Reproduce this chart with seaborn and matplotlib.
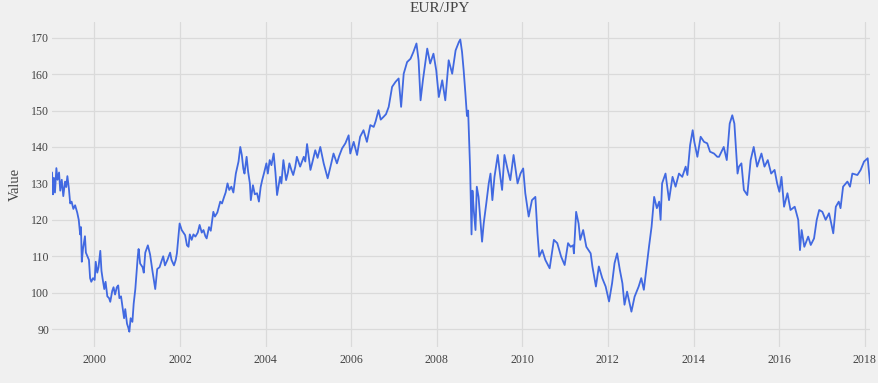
import pandas as pd
import matplotlib
matplotlib.use('Agg')
import matplotlib.pyplot as plt
import matplotlib.dates as mdates
import seaborn as sns

# EUR/JPY, values
dates = [
    '1999-01-04', '1999-01-12', '1999-01-20', '1999-01-29', '1999-02-10', '1999-02-20',
    '1999-03-05', '1999-03-15', '1999-03-28', '1999-04-10', '1999-04-25', '1999-05-05',
    '1999-05-15', '1999-05-28', '1999-06-08', '1999-06-20', '1999-07-05', '1999-07-20',
    '1999-08-07', '1999-08-20', '1999-09-01', '1999-09-08', '1999-09-15', '1999-09-25',
    '1999-10-12', '1999-10-20', '1999-11-02', '1999-11-15', '1999-11-25', '1999-12-05',
    '1999-12-20', '2000-01-03', '2000-01-12', '2000-01-25', '2000-02-05', '2000-02-20',
    '2000-03-01', '2000-03-10', '2000-03-25', '2000-04-05', '2000-04-20', '2000-05-05',
    '2000-05-15', '2000-06-01', '2000-06-12', '2000-06-25', '2000-07-10', '2000-07-22',
    '2000-08-01', '2000-08-15', '2000-08-28', '2000-09-10', '2000-09-20', '2000-10-05',
    '2000-10-15', '2000-10-25', '2000-11-05', '2000-11-20', '2000-12-01', '2000-12-15',
    '2001-01-05', '2001-01-12', '2001-01-25', '2001-02-15', '2001-02-25', '2001-03-10',
    '2001-04-01', '2001-04-20', '2001-05-10', '2001-06-03', '2001-06-20', '2001-07-10',
    '2001-07-25', '2001-08-10', '2001-08-25', '2001-09-15', '2001-10-08', '2001-10-20',
    '2001-11-10', '2001-11-25', '2001-12-05', '2001-12-28', '2002-01-15', '2002-02-13',
    '2002-03-01', '2002-03-14', '2002-03-25', '2002-04-10', '2002-04-25', '2002-05-12',
    '2002-06-01', '2002-06-17', '2002-07-05', '2002-07-20', '2002-08-05', '2002-08-16',
    '2002-09-05', '2002-09-20', '2002-10-12', '2002-10-25', '2002-11-15', '2002-12-10',
    '2002-12-25', '2003-01-12', '2003-01-25', '2003-02-10', '2003-02-25', '2003-03-15',
    '2003-04-01', '2003-04-22', '2003-05-05', '2003-05-15', '2003-05-30', '2003-06-12',
    '2003-06-25', '2003-07-05', '2003-07-23', '2003-08-05', '2003-08-20', '2003-08-28',
    '2003-09-15', '2003-10-01', '2003-10-20', '2003-11-05', '2003-11-20', '2003-12-03',
    '2003-12-20', '2004-01-08', '2004-01-20', '2004-02-05', '2004-02-20', '2004-03-10',
    '2004-03-25', '2004-04-08', '2004-05-04', '2004-05-15', '2004-06-01', '2004-06-24',
    '2004-07-10', '2004-07-22', '2004-08-10', '2004-08-24', '2004-09-10', '2004-09-24',
    '2004-10-22', '2004-11-22', '2004-12-05', '2004-12-20', '2005-01-18', '2005-02-05',
    '2005-02-28', '2005-03-20', '2005-04-12', '2005-05-11', '2005-06-14', '2005-07-08',
    '2005-08-03', '2005-09-01', '2005-09-20', '2005-10-15', '2005-11-12', '2005-12-10',
    '2005-12-24', '2006-01-22', '2006-02-20', '2006-03-18', '2006-04-16', '2006-05-15',
    '2006-06-13', '2006-07-12', '2006-07-28', '2006-08-22', '2006-09-10', '2006-10-05',
    '2006-10-25', '2006-11-17', '2006-12-16', '2007-01-15', '2007-02-10', '2007-03-03',
    '2007-03-25', '2007-04-23', '2007-05-22', '2007-06-15', '2007-07-12', '2007-07-30',
    '2007-08-16', '2007-09-05', '2007-10-12', '2007-11-06', '2007-12-04', '2007-12-28',
    '2008-01-19', '2008-02-17', '2008-03-14', '2008-04-12', '2008-05-12', '2008-06-10',
    '2008-07-08', '2008-07-20', '2008-08-04', '2008-08-18', '2008-09-01', '2008-09-15',
    '2008-09-25', '2008-10-05', '2008-10-12', '2008-10-24', '2008-11-01', '2008-11-12',
    '2008-11-27', '2008-12-08', '2008-12-23', '2009-01-07', '2009-01-22', '2009-02-05',
    '2009-02-27', '2009-03-20', '2009-04-04', '2009-04-20', '2009-05-08', '2009-06-05',
    '2009-06-27', '2009-07-12', '2009-08-01', '2009-08-29', '2009-09-20', '2009-10-18',
    '2009-11-21', '2009-12-16', '2010-01-08', '2010-01-26', '2010-02-24', '2010-03-24',
    '2010-04-22', '2010-05-10', '2010-05-25', '2010-06-20', '2010-07-16', '2010-08-22',
    '2010-09-27', '2010-10-26', '2010-11-28', '2010-12-28', '2011-01-26', '2011-02-17',
    '2011-03-10', '2011-03-17', '2011-04-05', '2011-04-26', '2011-05-10', '2011-06-04',
    '2011-07-01', '2011-08-07', '2011-08-22', '2011-09-21', '2011-10-16', '2011-11-14',
    '2011-12-13', '2012-01-11', '2012-02-06', '2012-02-27', '2012-03-20', '2012-04-12',
    '2012-05-04', '2012-05-22', '2012-06-13', '2012-07-20', '2012-08-16', '2012-09-20',
    '2012-10-12', '2012-11-03', '2012-11-27', '2012-12-17', '2013-01-08', '2013-01-30',
    '2013-02-22', '2013-03-14', '2013-03-26', '2013-04-08', '2013-05-07', '2013-06-06',
    '2013-07-06', '2013-08-01', '2013-08-30', '2013-09-27', '2013-10-26', '2013-11-10',
    '2013-12-03', '2013-12-25', '2014-01-08', '2014-02-03', '2014-03-03', '2014-04-01',
    '2014-04-28', '2014-05-22', '2014-06-25', '2014-07-23', '2014-08-07', '2014-09-16',
    '2014-10-12', '2014-11-06', '2014-11-28', '2014-12-16', '2015-01-12', '2015-01-24',
    '2015-02-14', '2015-03-07', '2015-04-05', '2015-05-04', '2015-05-30', '2015-06-28',
    '2015-08-04', '2015-08-30', '2015-09-27', '2015-10-26', '2015-11-24', '2015-12-16',
    '2016-01-04', '2016-01-22', '2016-02-13', '2016-03-13', '2016-04-08', '2016-05-14',
    '2016-06-13', '2016-06-28', '2016-07-12', '2016-08-04', '2016-09-06', '2016-09-28',
    '2016-10-26', '2016-11-18', '2016-12-09', '2017-01-05', '2017-02-02', '2017-03-03',
    '2017-03-22', '2017-04-08', '2017-04-30', '2017-05-25', '2017-06-09', '2017-07-01',
    '2017-08-07', '2017-08-29', '2017-09-18', '2017-10-31', '2017-11-28', '2017-12-27',
    '2018-01-27', '2018-02-07', '2018-02-16',
]
values = [
    133.0, 127.0, 131.5, 127.5, 134.2, 131.0,
    133.0, 128.0, 131.0, 126.5, 130.5, 129.0,
    132.0, 128.5, 124.5, 125.0, 123.0, 124.0,
    122.0, 120.0, 116.0, 118.0, 108.5, 112.0,
    115.5, 111.0, 110.0, 109.0, 104.0, 103.0,
    104.0, 103.5, 108.5, 105.5, 107.0, 111.5,
    106.0, 104.0, 101.0, 103.0, 99.0, 98.5,
    97.5, 100.5, 101.5, 99.5, 101.5, 102.0,
    98.5, 99.0, 96.0, 93.0, 95.5, 91.5,
    90.5, 89.3, 93.0, 92.0, 97.0, 101.0,
    110.0, 112.0, 108.0, 107.0, 105.5, 111.0,
    113.0, 110.5, 106.0, 101.0, 106.5, 107.0,
    108.5, 110.0, 107.5, 109.0, 111.0, 109.0,
    107.5, 109.0, 110.8, 119.0, 117.2, 115.8,
    113.0, 112.6, 116.0, 114.5, 116.0, 115.4,
    116.5, 118.6, 116.5, 117.2, 115.5, 114.9,
    118.0, 117.0, 122.2, 120.9, 122.0, 125.0,
    124.5, 126.3, 127.5, 130.0, 128.2, 129.1,
    127.5, 132.7, 134.6, 136.0, 140.0, 137.8,
    134.0, 132.7, 137.3, 133.2, 130.0, 125.4,
    129.5, 127.0, 127.3, 125.0, 129.0, 130.9,
    133.0, 135.5, 132.7, 136.4, 135.0, 138.2,
    133.0, 126.8, 131.8, 130.0, 136.4, 130.9,
    133.0, 135.5, 133.5, 132.3, 134.5, 137.3,
    134.6, 137.3, 136.0, 140.8, 133.7, 136.0,
    139.1, 137.0, 140.0, 135.5, 131.4, 134.6,
    138.2, 135.5, 137.5, 139.6, 141.0, 143.2,
    138.2, 141.4, 137.8, 142.8, 144.6, 141.4,
    146.0, 145.5, 147.0, 150.1, 147.5, 148.3,
    149.0, 151.0, 156.5, 157.9, 158.8, 151.0,
    160.1, 163.3, 164.2, 166.0, 168.4, 163.8,
    152.8, 158.3, 167.0, 162.9, 165.6, 161.0,
    153.7, 158.3, 152.8, 163.8, 160.1, 166.5,
    168.8, 169.5, 166.1, 161.0, 155.0, 148.5,
    150.0, 141.0, 134.0, 116.0, 128.0, 122.7,
    117.2, 129.1, 126.3, 120.0, 114.0, 119.0,
    124.5, 130.0, 132.7, 125.4, 131.8, 137.8,
    131.8, 128.2, 137.8, 133.7, 130.9, 137.8,
    130.0, 132.7, 134.1, 127.3, 120.9, 125.4,
    126.3, 116.3, 109.9, 111.7, 109.0, 106.7,
    114.5, 113.6, 109.9, 107.6, 113.6, 112.6,
    113.0, 110.8, 122.2, 119.0, 114.5, 117.2,
    112.6, 110.8, 107.2, 101.7, 107.2, 104.0,
    101.7, 97.6, 102.6, 108.1, 110.8, 106.3,
    102.6, 96.7, 100.3, 94.8, 98.9, 101.7,
    104.0, 100.8, 107.2, 112.6, 118.1, 126.3,
    123.2, 125.0, 120.0, 130.0, 132.7, 125.4,
    131.8, 129.1, 132.7, 131.8, 134.6, 132.3,
    140.5, 144.6, 141.4, 137.3, 142.8, 141.4,
    141.0, 138.7, 138.2, 137.3, 137.3, 140.0,
    136.4, 146.4, 148.7, 146.4, 132.7, 134.6,
    135.5, 128.2, 126.8, 136.4, 140.0, 134.6,
    138.2, 134.6, 136.4, 132.7, 133.7, 130.0,
    127.7, 131.8, 123.6, 127.3, 122.7, 123.6,
    120.0, 111.7, 117.2, 112.6, 115.4, 113.1,
    114.9, 120.0, 122.7, 122.2, 120.0, 121.8,
    119.0, 116.3, 123.6, 125.0, 123.2, 129.1,
    130.5, 129.1, 132.7, 132.3, 133.7, 136.0,
    136.9, 133.0, 130.0,
]

df = pd.DataFrame({'Date': pd.to_datetime(dates), 'Value': values})

sns.set_theme(style='whitegrid')
plt.rcParams['font.family'] = ['Liberation Serif', 'DejaVu Serif']

bg = '#f0f0f0'
fig = plt.figure(figsize=(8.79, 3.83), dpi=100, facecolor=bg)
ax = fig.add_axes([0.0592, 0.094, 0.9306, 0.8486])
ax.set_facecolor(bg)

sns.lineplot(data=df, x='Date', y='Value', ax=ax, color='#4169e1', linewidth=1.3)

ax.set_xlim(df['Date'].min(), df['Date'].max())
ax.set_ylim(85.1, 174.3)
ax.set_yticks(range(90, 171, 10))
ax.xaxis.set_major_locator(mdates.YearLocator(2))
ax.xaxis.set_major_formatter(mdates.DateFormatter('%Y'))

ax.grid(True, color='#dadada', linewidth=0.9)
for s in ax.spines.values():
    s.set_visible(False)
ax.tick_params(axis='both', length=0, labelsize=8.6, colors='#444444')
ax.tick_params(axis='x', pad=5)
ax.tick_params(axis='y', pad=2)
ax.set_xlabel('')
ax.set_ylabel('Value', fontsize=10.5, color='#444444', labelpad=7)

fig.suptitle('EUR/JPY', y=0.995, fontsize=11, color='#444444')

plt.savefig('out.png', dpi=100, facecolor=bg)
